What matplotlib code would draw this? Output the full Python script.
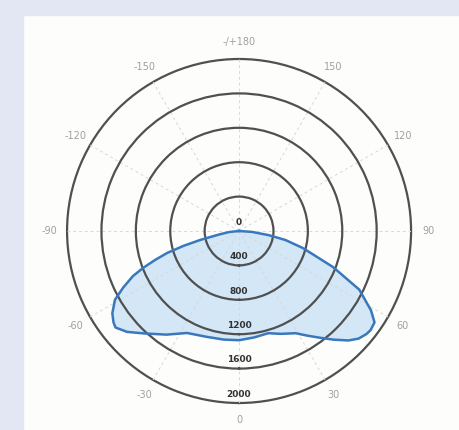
"""Polar luminous intensity distribution (candela) chart."""

import numpy as np
import matplotlib
matplotlib.use("Agg")
import matplotlib.pyplot as plt
from matplotlib.patches import Rectangle

# gamma angle (deg, 0 = straight down, + to the right) and intensity (cd)
gamma_deg = [-90, -84, -80, -77, -75, -73, -71, -69, -67, -64, -61, -57, -54,
             -52, -48, -43, -35, -27, -17, -8, 0, 8, 16, 22, 29, 33, 37, 41,
             45, 48, 51, 53, 56, 59, 64, 69, 75, 79, 82, 86, 90]
intensity = [0, 117, 236, 465, 670, 875, 1030, 1192, 1340, 1498, 1650, 1757,
             1805, 1823, 1753, 1628, 1471, 1331, 1287, 1275, 1270, 1250, 1236,
             1290, 1359, 1450, 1553, 1674, 1800, 1870, 1905, 1915, 1900, 1789,
             1555, 1171, 770, 550, 350, 150, 0]

ring_values = [400, 800, 1200, 1600, 2000]
ring_labels = ["400", "800", "1200", "1600", "2000"]
angle_ticks = [0, 30, 60, 90, 120, 150, 180, -150, -120, -90, -60, -30]
angle_labels = ["0", "30", "60", "90", "120", "150", "-/+180",
                "-150", "-120", "-90", "-60", "-30"]

fig = plt.figure(figsize=(4.6, 4.3), dpi=100)
fig.patch.set_facecolor("#fdfdfc")
# pale frame of the scanned page
fig.patches.append(Rectangle((0, 0.965), 1, 0.035, transform=fig.transFigure,
                             color="#e3e7f4", zorder=0))
fig.patches.append(Rectangle((0, 0), 0.05, 1, transform=fig.transFigure,
                             color="#e3e7f4", zorder=0))

ax = fig.add_axes([0.1457, 0.0628, 0.748, 0.80], projection="polar")
ax.set_facecolor("none")
ax.set_theta_zero_location("S")
ax.set_theta_direction(1)
ax.set_ylim(0, 2000)
ax.set_axisbelow(False)

# rings
ax.set_rgrids(ring_values[:-1], labels=[""] * (len(ring_values) - 1))
ax.yaxis.grid(True, color="#505050", lw=1.6)
ax.spines["polar"].set_color("#505050")
ax.spines["polar"].set_linewidth(1.6)

# radial guide lines
ax.set_thetagrids(np.arange(0, 360, 30), labels=[""] * 12)
ax.xaxis.grid(True, color="#d8d8d8", lw=0.7, ls=(0, (3, 3)))
ax.tick_params(length=0)

theta = np.deg2rad(gamma_deg)
ax.fill(theta, intensity, color="#d3e7f6", zorder=1)
ax.plot(theta, intensity, color="#3a78bd", lw=1.8, zorder=3)

# ring value labels along the 0 deg axis
ax.text(np.pi, 100, "0", ha="center", va="center", fontsize=6.5,
        color="#333333", fontweight="bold", zorder=4)
for val, lab in zip(ring_values, ring_labels):
    ax.text(0, val - 100, lab, ha="center", va="center", fontsize=6.5,
            color="#333333", fontweight="bold", zorder=4)

# angle labels outside the outer ring
for ang, lab in zip(angle_ticks, angle_labels):
    ax.text(np.deg2rad(ang), 2200, lab, ha="center", va="center",
            fontsize=7, color="#a0a0a0", clip_on=False)

fig.savefig("out.png", dpi=100)
